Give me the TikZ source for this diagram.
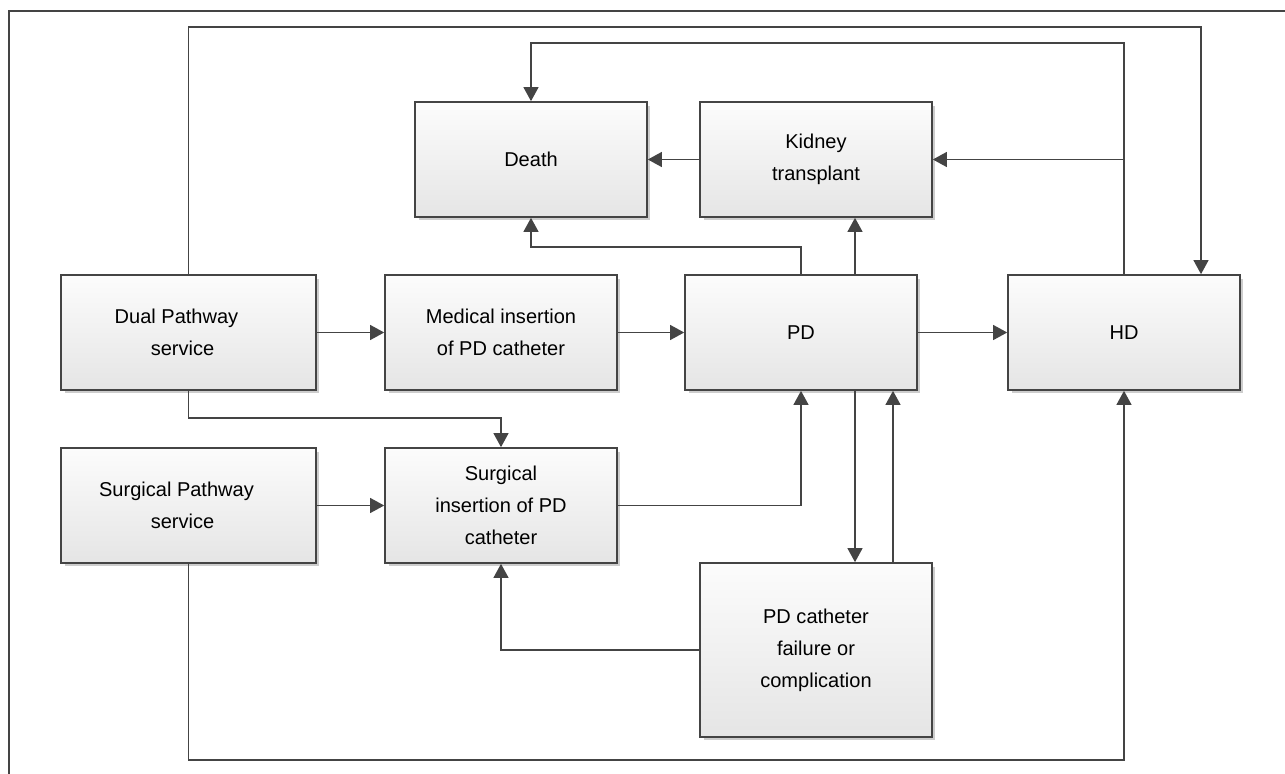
\documentclass[tikz,border=0pt]{standalone}
\usepackage{fontspec}
\setmainfont{Liberation Sans}
\usepackage{xcolor}
\usepackage{tikz}
\usetikzlibrary{arrows.meta,positioning,calc,shadows}
\definecolor{linegray}{RGB}{68,68,68}
\definecolor{boxtop}{RGB}{252,252,252}
\definecolor{boxbot}{RGB}{229,229,229}
\definecolor{shadowgray}{RGB}{205,205,205}

\begin{document}
\begin{tikzpicture}[
    x=0.02cm, y=-0.02cm,
    box/.style={draw=linegray, line width=0.95pt, top color=boxtop, bottom color=boxbot,
        minimum width=4.64cm, minimum height=2.3cm, align=center, inner sep=2pt,
        drop shadow={shadow xshift=0.07cm, shadow yshift=-0.07cm, fill=shadowgray, opacity=1}},
    wide/.style={minimum width=5.1cm},
    arr/.style={-{Triangle[length=8pt,width=8.5pt]}, line width=0.9pt, draw=linegray},
    every node/.style={font=\fontsize{11.4}{18.2}\selectfont}
]
\useasboundingbox (0,0) rectangle (1285,774);
% outer frame (right and bottom edges fall outside)
\draw[linegray, line width=1pt] (9,774) |- (1285,11);

\node[box] (death) at (531,159.5) {Death};
\node[box] (kidney) at (816,159.5) {Kidney\\transplant};
\node[box, wide] (dual) at (188.5,332.5) {Dual Pathway\hspace*{1.2em}\\service\hspace*{0.6em}};
\node[box] (medical) at (501,332.5) {Medical insertion\\of PD catheter};
\node[box] (pd) at (801,332.5) {PD};
\node[box] (hd) at (1124,332.5) {HD};
\node[box, wide] (surgpath) at (188.5,505.5) {Surgical Pathway\hspace*{1.2em}\\service\hspace*{0.6em}};
\node[box] (surgins) at (501,505.5) {Surgical\\insertion of PD\\catheter};
\node[box, minimum height=3.48cm] (failure) at (816,650) {PD catheter\\failure or\\complication};

\coordinate (pdtop) at ($(pd.north)+(54,0)$);
\coordinate (pdbot) at ($(pd.south)+(54,0)$);
\coordinate (failup) at ($(failure.north)+(77,0)$);
\coordinate (hdin) at ($(hd.north)+(77,0)$);

% main row
\draw[arr] (dual) -- (medical);
\draw[arr] (medical) -- (pd);
\draw[arr] (pd) -- (hd);
\draw[arr] (surgpath) -- (surgins);
\draw[arr] (kidney) -- (death);

% loops round the top
\draw[arr] (dual.north) |- ($(hdin)+(0,-247)$) -- (hdin);
\draw[arr] (hd.north) |- ($(death.north)+(0,-58)$) -- (death.north);
\draw[arr] (hd.north |- kidney.east) -- (kidney.east);
\draw[arr] (pdtop) -- (pdtop |- kidney.south);
\draw[arr] (pd.north) |- ($(death.south)+(0,29)$) -- (death.south);

% lower part
\draw[arr] (dual.south) |- ($(surgins.north)+(0,-29)$) -- (surgins.north);
\draw[arr] (surgins.east) -| (pd.south);
\draw[arr] (pdbot) -- (pdbot |- failure.north);
\draw[arr] (failup) -- (failup |- pd.south);
\draw[arr] (failure.west) -| (surgins.south);
\draw[arr] (surgpath.south) |- ($(hd.south)+(0,369)$) -- (hd.south);
\end{tikzpicture}
\end{document}
